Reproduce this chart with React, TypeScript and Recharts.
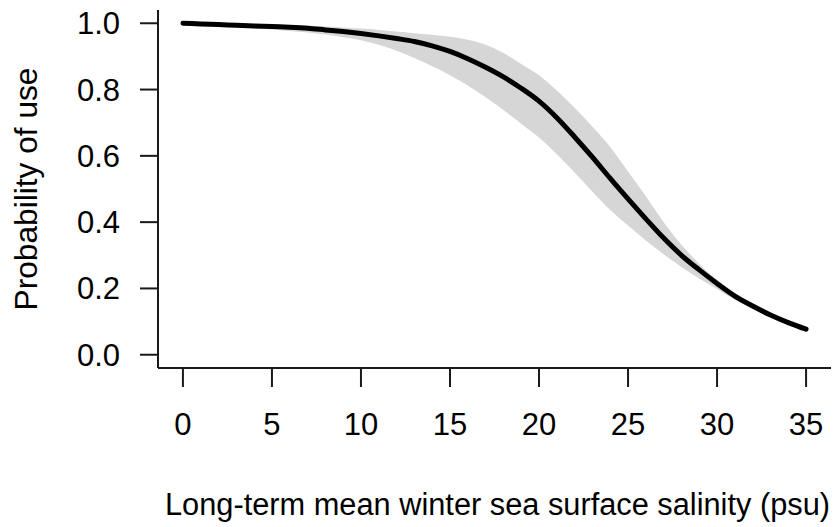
import React from "react";
import { ComposedChart, Area, Line, XAxis, YAxis, Label } from "recharts";

const salinity = [0, 1, 2, 3, 4, 5, 6, 7, 8, 9, 10, 11, 12, 13, 14, 15, 16, 17, 18, 19, 20, 21, 22, 23, 24, 25, 26, 27, 28, 29, 30, 31, 32, 33, 34, 35];
const probability = [1.0, 0.998, 0.996, 0.994, 0.992, 0.99, 0.988, 0.985, 0.98, 0.975, 0.969, 0.962, 0.954, 0.945, 0.932, 0.915, 0.893, 0.867, 0.838, 0.804, 0.765, 0.715, 0.657, 0.596, 0.532, 0.47, 0.41, 0.352, 0.3, 0.256, 0.215, 0.177, 0.147, 0.12, 0.097, 0.077];
const upperCI = [1.0, 1.0, 0.999, 0.998, 0.997, 0.996, 0.995, 0.993, 0.99, 0.987, 0.984, 0.98, 0.975, 0.97, 0.965, 0.959, 0.95, 0.935, 0.91, 0.877, 0.843, 0.797, 0.745, 0.688, 0.627, 0.553, 0.478, 0.4, 0.332, 0.274, 0.226, 0.186, 0.155, 0.127, 0.103, 0.083];
const lowerCI = [1.0, 0.996, 0.992, 0.988, 0.985, 0.981, 0.977, 0.972, 0.966, 0.958, 0.949, 0.935, 0.917, 0.895, 0.87, 0.843, 0.812, 0.777, 0.738, 0.697, 0.655, 0.605, 0.55, 0.492, 0.437, 0.39, 0.345, 0.303, 0.265, 0.23, 0.198, 0.166, 0.139, 0.113, 0.09, 0.071];
const xTicks = [0, 5, 10, 15, 20, 25, 30, 35];
const yTicks = [0, 0.2, 0.4, 0.6, 0.8, 1.0];
const xTitle = "Long-term mean winter sea surface salinity (psu)";
const yTitle = "Probability of use";

const data = salinity.map((s, i) => ({
  x: s,
  p: probability[i],
  band: [lowerCI[i], upperCI[i]],
}));

const FONT = "'Liberation Sans', Arial, sans-serif";
const INK = "#1a1a1a";

export default function App() {
  return (
    <div style={{ position: "absolute", left: 0, top: 0, width: 834, height: 527, background: "#fff" }}>
      <ComposedChart
        width={834}
        height={527}
        data={data}
        margin={{ top: 10, right: 3, bottom: 99, left: 98 }}
        style={{ fontFamily: FONT }}
      >
        <XAxis
          xAxisId="b"
          dataKey="x"
          type="number"
          domain={[-1.4, 36.4]}
          ticks={xTicks}
          allowDataOverflow
          height={60}
          tickSize={19}
          tickMargin={26}
          axisLine={{ stroke: INK, strokeWidth: 2 }}
          tickLine={{ stroke: INK, strokeWidth: 2 }}
          tick={{ fill: "#000", fontSize: 31, fontFamily: FONT }}
        >
          <Label
            content={(props: any) => {
              const vb = props.viewBox;
              return (
                <text
                  x={vb.x + vb.width / 2 + 3}
                  y={vb.y + 147}
                  textAnchor="middle"
                  fontSize={31}
                  fontFamily={FONT}
                  fill="#000"
                  textLength={665}
                  lengthAdjust="spacingAndGlyphs"
                >
                  {xTitle}
                </text>
              );
            }}
          />
        </XAxis>
        <XAxis
          xAxisId="t"
          dataKey="x"
          type="number"
          orientation="top"
          domain={[-1.4, 36.4]}
          allowDataOverflow
          height={0}
          tick={false}
          tickLine={false}
          axisLine={{ stroke: INK, strokeWidth: 2 }}
        />
        <YAxis
          yAxisId="l"
          type="number"
          domain={[-0.04, 1.04]}
          ticks={yTicks}
          allowDataOverflow
          width={60}
          tickSize={18}
          tickMargin={20}
          tickFormatter={(v: number) => v.toFixed(1)}
          axisLine={{ stroke: INK, strokeWidth: 2 }}
          tickLine={{ stroke: INK, strokeWidth: 2 }}
          tick={{ fill: "#000", fontSize: 31, fontFamily: FONT }}
        >
          <Label
            content={(props: any) => {
              const vb = props.viewBox;
              const cx = 37;
              const cy = vb.y + vb.height / 2;
              return (
                <text
                  x={cx}
                  y={cy}
                  transform={`rotate(-90, ${cx}, ${cy})`}
                  textAnchor="middle"
                  fontSize={31}
                  fontFamily={FONT}
                  fill="#000"
                  textLength={243}
                  lengthAdjust="spacingAndGlyphs"
                >
                  {yTitle}
                </text>
              );
            }}
          />
        </YAxis>
        <YAxis
          yAxisId="r"
          type="number"
          orientation="right"
          domain={[-0.04, 1.04]}
          allowDataOverflow
          width={0}
          tick={false}
          tickLine={false}
          axisLine={{ stroke: INK, strokeWidth: 2 }}
        />
        <Area
          xAxisId="b"
          yAxisId="l"
          type="monotone"
          dataKey="band"
          stroke="none"
          fill="#d6d6d6"
          fillOpacity={1}
          isAnimationActive={false}
          dot={false}
          activeDot={false}
        />
        <Line
          xAxisId="b"
          yAxisId="l"
          type="monotone"
          dataKey="p"
          stroke="#000"
          strokeWidth={5}
          strokeLinecap="round"
          dot={false}
          activeDot={false}
          isAnimationActive={false}
        />
      </ComposedChart>
    </div>
  );
}
